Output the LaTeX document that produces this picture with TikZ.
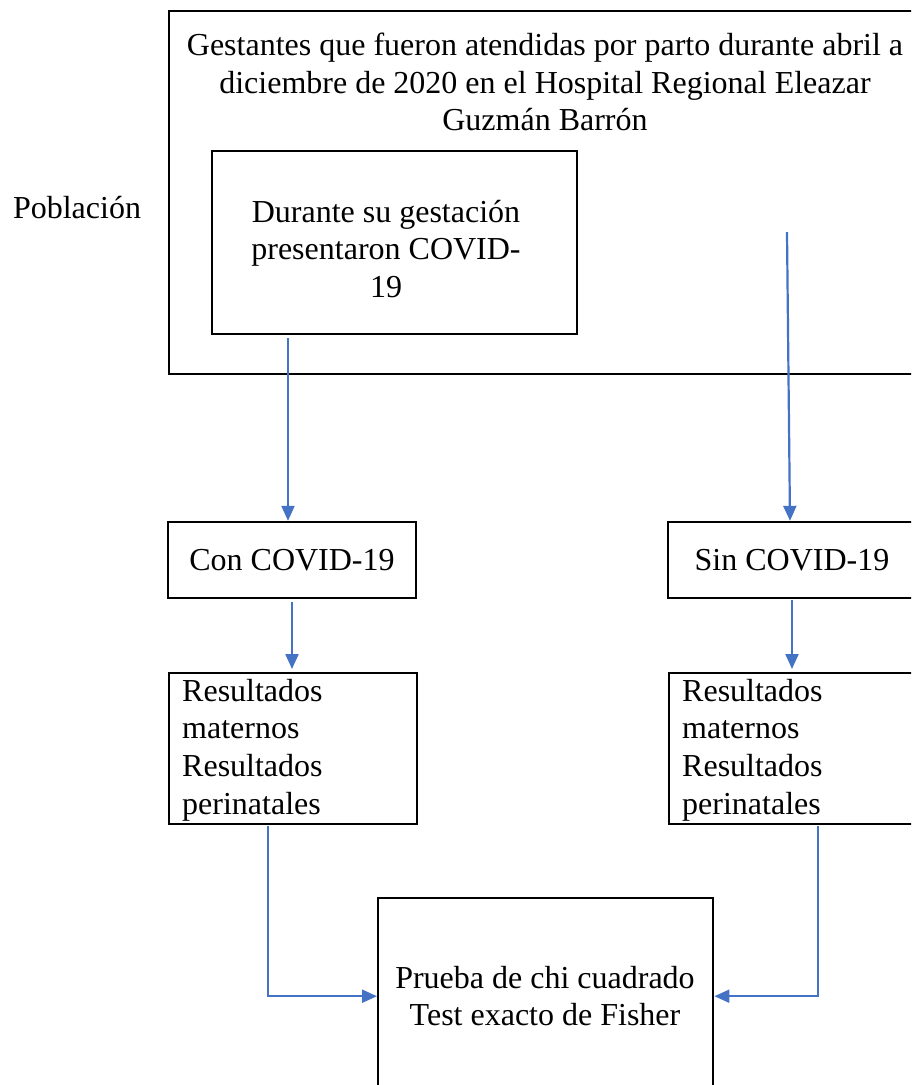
\documentclass[tikz,border=0pt]{standalone}
\usepackage{fontspec}
\setmainfont{Liberation Serif}
\usetikzlibrary{arrows.meta}
\definecolor{arrblue}{HTML}{4472C4}
\begin{document}
\begin{tikzpicture}[x=1pt,y=-1pt,
  box/.style={draw=black,line width=2.4pt,inner sep=0pt},
  arr/.style={draw=arrblue,line width=2.2pt,-{Triangle[length=15pt,width=13pt]}},
  txt/.style={font=\fontsize{32}{37.7}\selectfont,align=center,inner sep=0pt}]
\useasboundingbox (0,0) rectangle (911,1085);
\clip (0,0) rectangle (911,1085);
% population frame
\node[box,minimum width=760pt,minimum height=363pt,anchor=north west] (pop) at (168,10) {};
\node[txt] (title) at (545,82) {Gestantes que fueron atendidas por parto durante abril a\\diciembre de 2020 en el Hospital Regional Eleazar\\Guzmán Barrón};
\node[txt] (pob) at (77,208) {Población};
\node[box,minimum width=365pt,minimum height=183pt,anchor=north west] (dur) at (211,150) {};
\node[txt] (durt) at (386,249) {Durante su gestación\\presentaron COVID-\\19};
% groups
\node[box,txt,minimum width=248pt,minimum height=76pt] (con) at (292,560) {Con COVID-19};
\node[box,txt,minimum width=248pt,minimum height=76pt] (sin) at (792,560) {Sin COVID-19};
% results
\node[box,minimum width=248pt,minimum height=151pt,anchor=north west] (resL) at (168,672) {};
\node[txt,align=left,anchor=west] (resLt) at (182,750) {Resultados\\maternos\\Resultados\\perinatales};
\node[box,minimum width=248pt,minimum height=151pt,anchor=north west] (resR) at (668,672) {};
\node[txt,align=left,anchor=west] (resRt) at (682,750) {Resultados\\maternos\\Resultados\\perinatales};
% test
\node[box,minimum width=335pt,minimum height=196pt,anchor=north west] (test) at (377,897) {};
\node[txt] (testt) at (545,996) {Prueba de chi cuadrado\\Test exacto de Fisher};
% connectors
\coordinate (a1) at (288,338);
\coordinate (a2) at (787,232);
\draw[arr] (a1) -- (a1 |- con.north);
\draw[arr] (a2) -- ([xshift=-2pt]sin.north);
\draw[arr] ([yshift=-3pt]con.south) -- ([yshift=3pt]resL.north -| con.south);
\draw[arr] ([yshift=-1pt]sin.south) -- ([yshift=3pt]resR.north -| sin.south);
\coordinate (b1) at (268,826);
\coordinate (b2) at (818,826);
\draw[arr] (b1) |- (test.west);
\draw[arr] (b2) |- (test.east);
\end{tikzpicture}
\end{document}
